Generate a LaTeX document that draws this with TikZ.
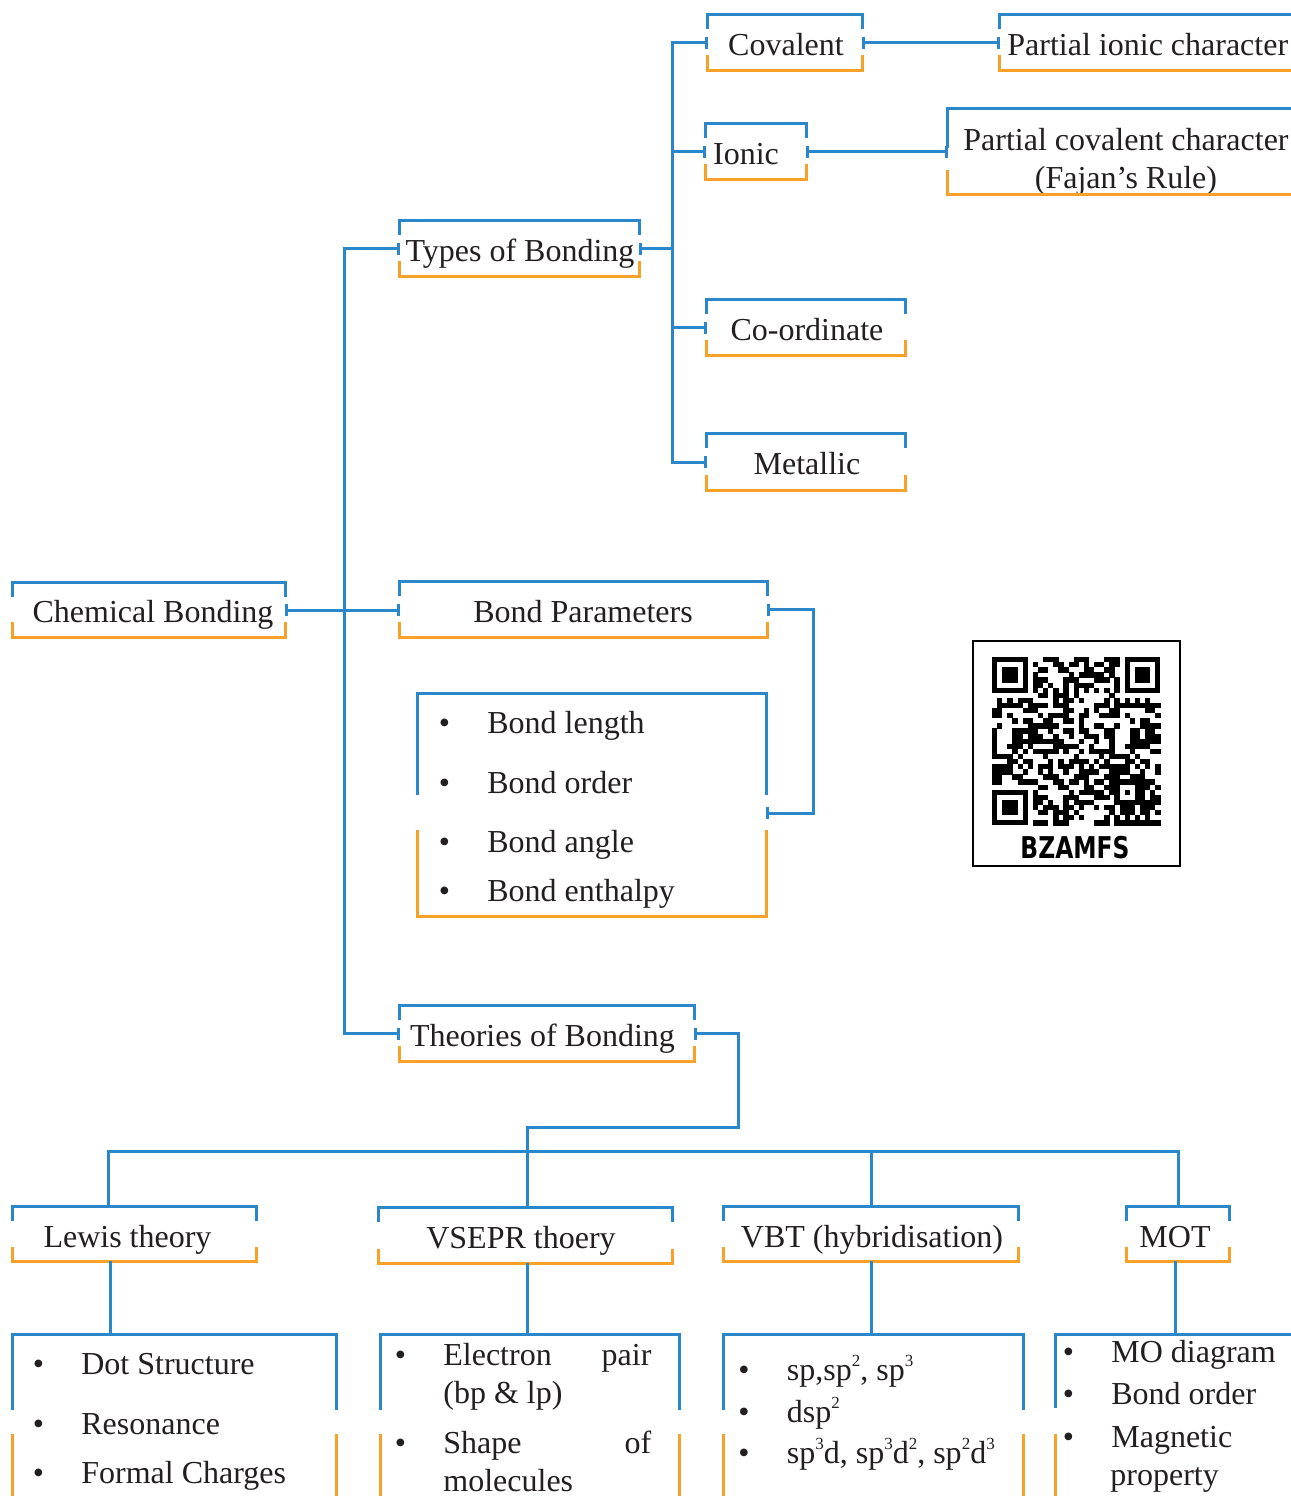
\documentclass[tikz,border=0pt]{standalone}
\usepackage{fontspec}
\setmainfont{Liberation Serif}
\newfontfamily\qrfont{DejaVu Sans}
\usetikzlibrary{calc,arrows.meta}
\definecolor{cblue}{HTML}{2B87CC}
\definecolor{corange}{HTML}{F8A128}
\definecolor{ctext}{HTML}{231F20}
\newcount\qa \newcount\qb
\newcommand\brk[3]{%
  \draw[bline] ($(#1.north west)+(0,#2)$) -- (#1.north west) -- (#1.north east) -- ++(0,#2);
  \draw[oline] ($(#1.south west)+(0,-#3)$) -- (#1.south west) -- (#1.south east) -- ++(0,-#3);}
\newcommand\bul{\makebox[24.25pt][l]{\textbullet}}
\newcommand\sps[1]{\raisebox{0.42em}{\fontsize{8.5}{8.5}\selectfont #1}}
\tikzset{
  bline/.style={draw=cblue, line width=1.5pt},
  oline/.style={draw=corange, line width=1.5pt},
  con/.style={draw=cblue, line width=1.5pt},
  Tk/.tip={Bar[width=6pt]},
  bx/.style 2 args={draw=none, inner sep=0pt, minimum width=#1*0.5pt, minimum height=#2*0.5pt},
  lbl/.style={anchor=base, inner sep=0pt, text=ctext, font=\fontsize{16}{19}\selectfont},
  item/.style={anchor=base west, inner sep=0pt, text=ctext, font=\fontsize{16}{19}\selectfont},
}
\begin{document}
\begin{tikzpicture}[x=0.5pt,y=-0.5pt]
\useasboundingbox (0,0) rectangle (1291,1496);
\clip (0,0) rectangle (1291,1496);
\fill[white] (0,0) rectangle (1291,1496);

% ---------- boxes ----------
\node[bx={272}{54}] (cb) at (149,610) {};
\node[lbl] (cbt) at (153,622) {Chemical Bonding};
\node[bx={239}{55}] (tob) at (519.5,248.5) {};
\node[lbl] (tobt) at (520,261) {Types of Bonding};
\node[bx={154}{55}] (cov) at (785,42.5) {};
\node[lbl] (covt) at (786,55) {Covalent};
\node[bx={320}{55}] (pic) at (1160,42.5) {};
\node[lbl, anchor=base west] (pict) at (1007,55) {Partial ionic character};
\node[bx={100}{55}] (ion) at (756,151.5) {};
\node[lbl] (iont) at (746,164) {Ionic};
\node[bx={372}{85}] (pcc) at (1134,151.5) {};
\node[lbl] (pcct1) at (1126,150) {Partial covalent character};
\node[lbl] (pcct2) at (1126,188) {(Fajan’s Rule)};
\node[bx={198}{55}] (coo) at (806,327.5) {};
\node[lbl] (coot) at (807,340) {Co-ordinate};
\node[bx={198}{56}] (met) at (806,462) {};
\node[lbl] (mett) at (807,474) {Metallic};
\node[bx={367}{55}] (bp) at (583.5,609.5) {};
\node[lbl] (bpt) at (583,622) {Bond Parameters};
\node[bx={348}{222}] (bl) at (592,805) {};
\node[bx={294}{55}] (tht) at (547,1033.5) {};
\node[lbl] (thtt) at (542.5,1046) {Theories of Bonding};
\node[bx={243}{54}] (lew) at (134.5,1234) {};
\node[lbl] (lewt) at (127.5,1247) {Lewis theory};
\node[bx={293}{55}] (vse) at (525.5,1235.5) {};
\node[lbl] (vset) at (521,1248) {VSEPR thoery};
\node[bx={294}{54}] (vbt) at (871,1234) {};
\node[lbl] (vbtt) at (872,1247) {VBT (hybridisation)};
\node[bx={102}{54}] (mot) at (1178,1234) {};
\node[lbl] (mott) at (1175,1247) {MOT};
\node[bx={323}{220}] (lewL) at (174.5,1445) {};
\node[bx={298}{220}] (vseL) at (530,1445) {};
\node[bx={299}{220}] (vbtL) at (873.5,1445) {};
\node[bx={320}{220}] (motL) at (1216,1445) {};

\brk{cb}{14}{15}
\brk{tob}{14}{15}
\brk{cov}{14}{15}
\brk{pic}{14}{15}
\brk{ion}{14}{15}
\brk{pcc}{39}{24}
\brk{coo}{14}{15}
\brk{met}{14}{15}
\brk{bp}{14}{15}
\brk{bl}{101}{86}
\brk{tht}{14}{15}
\brk{lew}{14}{14}
\brk{vse}{14}{14}
\brk{vbt}{14}{14}
\brk{mot}{14}{14}
\brk{lewL}{75}{121}
\brk{vseL}{75}{121}
\brk{vbtL}{75}{121}
\brk{motL}{73}{121}

% ---------- list items ----------
\node[item] (bl1) at (438.5,733) {\bul Bond length};
\node[item] (bl2) at (438.5,793) {\bul Bond order};
\node[item] (bl3) at (438.5,852) {\bul Bond angle};
\node[item] (bl4) at (438.5,901) {\bul Bond enthalpy};

\node[item] (le1) at (32.5,1374) {\bul Dot Structure};
\node[item] (le2) at (32.5,1434) {\bul Resonance};
\node[item] (le3) at (32.5,1483) {\bul Formal Charges};

\node[item] (vs1) at (394.5,1365) {\makebox[128.25pt][l]{\bul Electron\hfill pair}};
\node[item] (vs2) at (443,1403) {(bp \& lp)};
\node[item] (vs3) at (394.5,1453) {\makebox[128.25pt][l]{\bul Shape\hfill of}};
\node[item] (vs4) at (443,1491) {molecules};

\node[item] (vb1) at (738,1380) {\bul sp,sp\sps{2}, sp\sps{3}};
\node[item] (vb2) at (738,1422) {\bul dsp\sps{2}};
\node[item] (vb3) at (738,1463) {\bul sp\sps{3}d, sp\sps{3}d\sps{2}, sp\sps{2}d\sps{3}};

\node[item] (mo1) at (1062.5,1362) {\bul MO diagram};
\node[item] (mo2) at (1062.5,1404) {\bul Bond order};
\node[item] (mo3) at (1062.5,1447) {\bul Magnetic};
\node[item] (mo4) at (1110,1485) {property};

% ---------- connectors ----------
\draw[con,{Tk}-{Tk}] (cb.east) -- (cb.east -| bp.west);
\draw[con,{Tk}-{Tk}] (tob.west) -- ++(-55,0) |- (tht.west);
\coordinate (j2) at (672,248.5);
\draw[con,{Tk}-] (tob.east) -- (j2);
\foreach \n in {cov,ion,coo,met} \draw[con,-{Tk}] (j2) |- (\n.west);
\draw[con,{Tk}-{Tk}] (cov.east) -- (pic.west);
\draw[con,{Tk}-{Tk}] (ion.east) -- (pcc.west);
\draw[con,{Tk}-{Tk}] (bp.east) -- ++(46,0) |- ($(bl.east)+(0,8)$);
\coordinate (bj) at (527,1127);
\draw[con,{Tk}-] (tht.east) -- ++(44,0) |- (bj) -- (bj |- vse.north);
\coordinate (bl0) at (108,1151);
\coordinate (br0) at (1178,1151);
\draw[con] (bl0 |- lew.north) -- (bl0) -- (br0) -- (br0 |- mot.north);
\draw[con] (vbt.north |- bl0) -- (vbt.north);
\coordinate (ld) at (110,1300);
\coordinate (md) at (1175,1300);
\draw[con] (lew.south -| ld) -- (lewL.north -| ld);
\draw[con] (vse.south -| bj) -- (vseL.north -| bj);
\draw[con] (vbt.south) -- (vbt.south |- vbtL.north);
\draw[con] (mot.south -| md) -- (motL.north -| md);

% ---------- QR code ----------
\draw[black, line width=1.2pt] (973,641) rectangle (1180,866);
\foreach \i in {0,...,32}{
 \foreach \j in {0,...,32}{
  \pgfmathtruncatemacro\qs{((\i<8)&&(\j<8))||((\i>24)&&(\j<8))||((\i<8)&&(\j>24))||((\i>23)&&(\i<29)&&(\j>23)&&(\j<29))}
  \ifnum\qs=0
   \pgfmathtruncatemacro\qt{(\i==6)||(\j==6)}
   \ifnum\qt=1
     \pgfmathtruncatemacro\qm{mod(\i+\j,2)}
     \ifnum\qm=0 \fill[black] (992+\i*5.1,657+\j*5.1) rectangle ++(5.3,5.3);\fi
   \else
     \qa=\numexpr \i*73+\j*151+\i*\j*37+\i*\i*\j*11+\j*\j*29+7\relax
     \qb=\qa \divide\qb by 23 \multiply\qb by 23 \advance\qa by -\qb
     \ifnum\qa<12 \fill[black] (992+\i*5.1,657+\j*5.1) rectangle ++(5.3,5.3);\fi
   \fi
  \fi
 }}
\foreach \fx/\fy in {0/0,26/0,0/26}{
 \fill[black] (992+\fx*5.1,657+\fy*5.1) rectangle ++(35.7,35.7);
 \fill[white] (992+\fx*5.1+5.1,657+\fy*5.1+5.1) rectangle ++(25.5,25.5);
 \fill[black] (992+\fx*5.1+10.2,657+\fy*5.1+10.2) rectangle ++(15.3,15.3);
}
\fill[black] (992+24*5.1,657+24*5.1) rectangle ++(25.5,25.5);
\fill[white] (992+25*5.1,657+25*5.1) rectangle ++(15.3,15.3);
\fill[black] (992+26*5.1,657+26*5.1) rectangle ++(5.1,5.1);
\node[inner sep=0pt, xscale=0.78, font=\qrfont\bfseries\fontsize{15}{15}\selectfont] (qrt) at (1075,848) {BZAMFS};
\end{tikzpicture}
\end{document}
